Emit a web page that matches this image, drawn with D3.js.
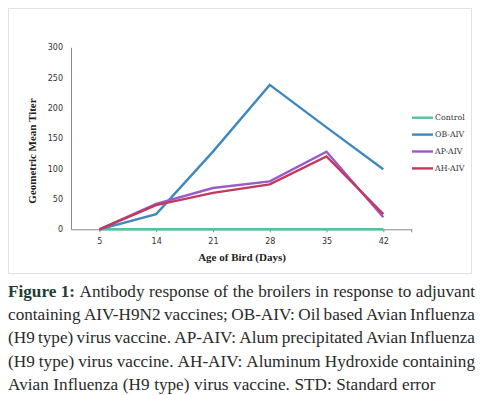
<!DOCTYPE html>
<html>
<head>
<meta charset="utf-8">
<script src="https://cdn.jsdelivr.net/npm/d3@7"></script>
<style>
  body { margin: 0; background: #fff; }
  svg { display: block; }
</style>
</head>
<body>
<div id="chart"></div>
<script>
// data
var days = ["5", "14", "21", "28", "35", "42"]
var control = [0, 0, 0, 0, 0, 0]
var obAiv = [0, 25, 128, 238, 168, 99]
var apAiv = [0, 42, 68, 79, 128, 20]
var ahAiv = [0, 40, 60, 74, 120, 25]
var seriesNames = ["Control", "OB-AIV", "AP-AIV", "AH-AIV"]
var yTicks = [0, 50, 100, 150, 200, 250, 300]
var captionLines = [
  "Antibody response of the broilers in response to adjuvant",
  "containing AIV-H9N2 vaccines; OB-AIV: Oil based Avian Influenza",
  "(H9 type) virus vaccine. AP-AIV: Alum precipitated Avian Influenza",
  "(H9 type) virus vaccine. AH-AIV: Aluminum Hydroxide containing",
  "Avian Influenza (H9 type) virus vaccine. STD: Standard error"
]

var W = 483, H = 395
var svg = d3.select("#chart").append("svg")
  .attr("width", W).attr("height", H)

// frame round the chart
svg.append("rect")
  .attr("x", 8.5).attr("y", 8.5)
  .attr("width", 463).attr("height", 265)
  .attr("fill", "#fff")
  .attr("stroke", "#e3e3e3")

var x = d3.scalePoint().domain(days).range([71, 411.7]).padding(0.5)
var y = d3.scaleLinear().domain([0, 300]).range([229.3, 47.3])

var color = d3.scaleOrdinal()
  .domain(seriesNames)
  .range(["#52c2a5", "#4189bd", "#9a5ac7", "#c23a5d"])

// y axis (line only, labels to the left)
var yAxis = svg.append("g")
  .attr("transform", "translate(71,0)")
  .call(d3.axisLeft(y).tickValues(yTicks).tickSize(0).tickPadding(8))
yAxis.select(".domain").attr("stroke", "#8a8a8a")
yAxis.selectAll("text")
  .style("font-family", "'DejaVu Sans', sans-serif")
  .style("font-size", "8px")
  .attr("fill", "#333")

// x axis
var xAxis = svg.append("g")
  .attr("transform", "translate(0,229.3)")
  .call(d3.axisBottom(x).tickSize(3).tickSizeOuter(0).tickPadding(6))
xAxis.select(".domain").attr("stroke", "#8a8a8a")
xAxis.selectAll(".tick line").attr("stroke", "#8a8a8a")
xAxis.append("line")
  .attr("x1", 411.7).attr("x2", 411.7).attr("y1", 0).attr("y2", 3)
  .attr("stroke", "#8a8a8a")
xAxis.selectAll("text")
  .style("font-family", "'DejaVu Sans', sans-serif")
  .style("font-size", "8px")
  .attr("fill", "#333")

// axis titles
svg.append("text")
  .attr("x", 242).attr("y", 261)
  .attr("text-anchor", "middle")
  .style("font-family", "'Liberation Serif', serif")
  .style("font-weight", "bold")
  .style("font-size", "11px")
  .attr("fill", "#222")
  .text("Age of Bird (Days)")

svg.append("text")
  .attr("transform", "translate(36,151) rotate(-90)")
  .attr("text-anchor", "middle")
  .style("font-family", "'Liberation Serif', serif")
  .style("font-weight", "bold")
  .style("font-size", "11px")
  .attr("fill", "#222")
  .text("Geometric Mean Titer")

// lines
var series = [control, obAiv, apAiv, ahAiv]
var line = d3.line()
  .x(function (d, i) { return x(days[i]) })
  .y(function (d) { return y(d) })

svg.append("g").selectAll("path")
  .data(series)
  .enter()
  .append("path")
  .attr("d", function (d) { return line(d) })
  .attr("fill", "none")
  .attr("stroke", function (d, i) { return color(seriesNames[i]) })
  .attr("stroke-width", 2.4)
  .attr("stroke-linejoin", "miter")

// legend
var legend = svg.append("g")
legend.selectAll("line")
  .data(seriesNames)
  .enter()
  .append("line")
  .attr("x1", 412).attr("x2", 433)
  .attr("y1", function (d, i) { return 117.7 + i * 16.9 })
  .attr("y2", function (d, i) { return 117.7 + i * 16.9 })
  .attr("stroke", function (d) { return color(d) })
  .attr("stroke-width", 2.4)
legend.selectAll("text")
  .data(seriesNames)
  .enter()
  .append("text")
  .attr("x", 435)
  .attr("y", function (d, i) { return 117.7 + i * 16.9 })
  .attr("dy", "0.35em")
  .style("font-family", "'DejaVu Serif', serif")
  .style("font-size", "7.8px")
  .attr("fill", "#333")
  .text(function (d) { return d })

// caption, justified like the journal text
var cap = svg.append("g")
  .style("font-family", "'Liberation Serif', serif")
  .style("font-size", "17.2px")
var left = 8, right = 475
captionLines.forEach(function (ln, li) {
  var yy = 297 + li * 23.2
  var words = ln.split(" ")
  var items = []
  if (li == 0) items.push({ t: "Figure 1:", bold: true })
  words.forEach(function (w) { items.push({ t: w, bold: false }) })
  var nodes = items.map(function (it) {
    return cap.append("text")
      .attr("y", yy)
      .style("font-weight", it.bold ? "bold" : "normal")
      .attr("fill", it.bold ? "#1f3d33" : "#2a2a2a")
      .text(it.t)
  })
  var widths = nodes.map(function (n) { return n.node().getComputedTextLength() })
  var total = d3.sum(widths)
  var gap = li < captionLines.length - 1 ? (right - left - total) / (nodes.length - 1) : 4.6
  var cx = left
  nodes.forEach(function (n, k) {
    n.attr("x", cx)
    cx += widths[k] + gap
  })
})
</script>
</body>
</html>
